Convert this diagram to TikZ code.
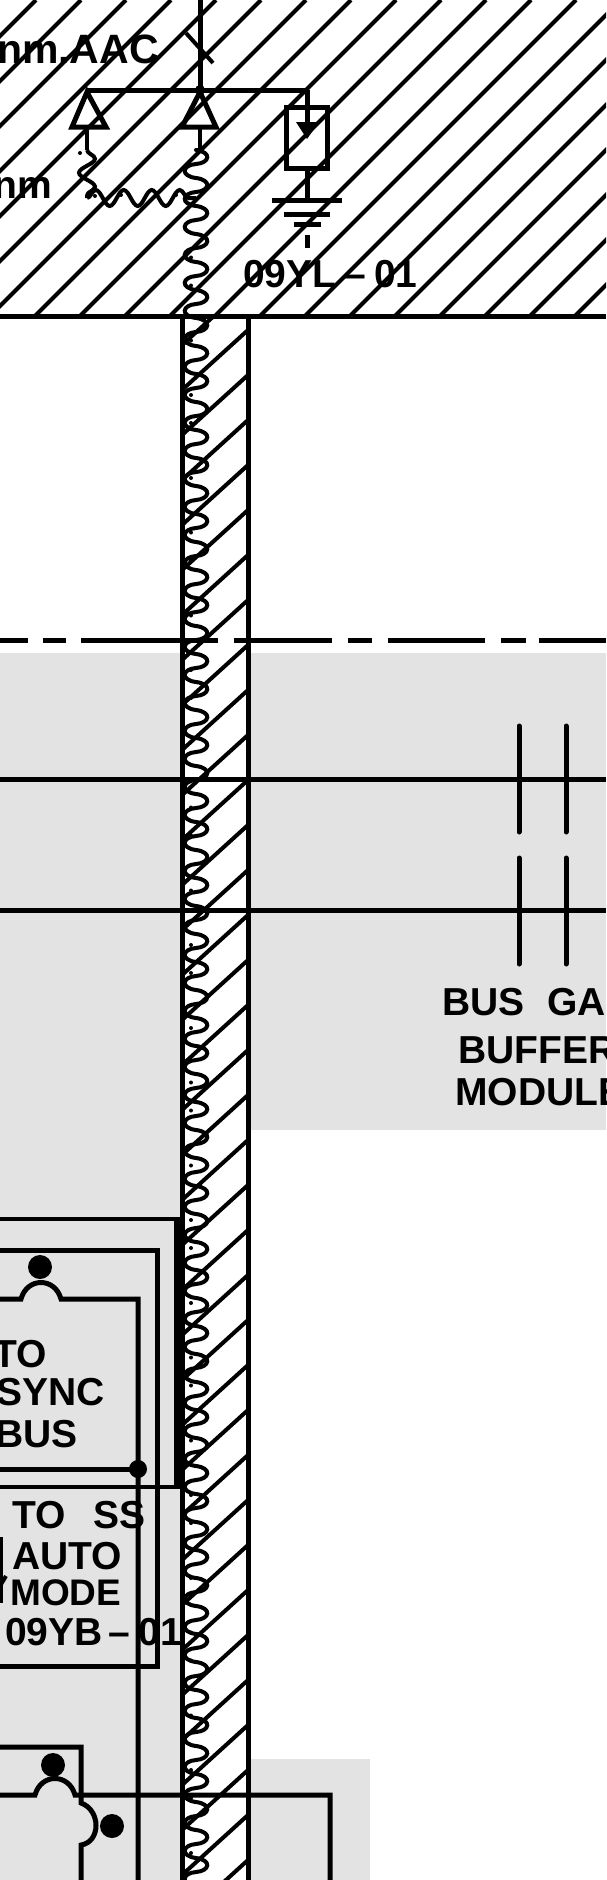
\documentclass[tikz,border=0pt]{standalone}
\usepackage{fontspec}
\setmainfont{Liberation Sans}
\usetikzlibrary{decorations.pathmorphing}
\definecolor{zonegray}{HTML}{E3E3E3}
\tikzset{
    wire/.style={line width=5pt},
    hatchline/.style={line width=4pt},
    cable/.style={line width=4pt, decorate, decoration={snake, segment length=28, amplitude=8}},
    cablecurl/.style={line width=4pt, line cap=round},
    cabledot/.style={fill=black},
    caplabel/.style={inner sep=0pt, font=\fontsize{39}{39}\selectfont\bfseries}
}
\begin{document}
\begin{tikzpicture}[x=1pt, y=-1pt]
    \useasboundingbox (0,0) rectangle (606,1880);
    \clip (0,0) rectangle (606,1880);
    \fill[white] (0,0) rectangle (606,1880);

    % shaded zones
    \fill[zonegray] (0,653) rectangle (182,1880);
    \fill[zonegray] (248,653) rectangle (606,1130);
    \fill[zonegray] (248,1759) rectangle (370,1880);

    % hatched area
    \begin{scope}
        \clip (0,0) rectangle (606,316);
        \foreach \hx in {-370,-325,...,600}
            \draw[hatchline] (\hx,316) -- (\hx+316,0);
    \end{scope}
    \draw[wire] (0,316) -- (606,316);

    % duct
    \begin{scope}
        \clip (182,316) rectangle (248,1880);
        \foreach \hy in {285,330,...,1905}
            \draw[hatchline] (182,\hy+60) -- (248,\hy);
    \end{scope}
    \draw[wire] (182,316) -- (182,1880);
    \draw[wire] (248,316) -- (248,1880);

    % site boundary and bus lines
    \draw[wire] (0,640) -- (28,640) (43,640) -- (66,640) (81,640) -- (218,640)
        (234,640) -- (332,640) (348,640) -- (372,640) (388,640) -- (485,640)
        (501,640) -- (526,640) (539,640) -- (606,640);
    \draw[wire] (0,779) -- (606,779);
    \draw[wire] (0,910) -- (606,910);
    \foreach \tx in {519,566} {
        \draw[wire, line cap=round] (\tx,726) -- (\tx,832);
        \draw[wire, line cap=round] (\tx,858) -- (\tx,964);
    }

    % cable runs
    \foreach \wy in {150,178,...,1880}
        \draw[cablecurl] (196,\wy) .. controls (212,\wy+2) and (210,\wy+13) .. (196,\wy+14)
            .. controls (182,\wy+15) and (180,\wy+26) .. (196,\wy+28);
    \draw[hatchline] (200,127) -- (200,150) -- (196,150);
    \draw[hatchline] (87,127) -- (87,150);
    \draw[cable] (87,150) -- (87,198);
    \draw[cable] (87,198) -- (196,198);
    \foreach \base in {257.5,395,...,1860}
        \foreach \off in {0,28,83}
            \fill[cabledot] (191,\base+\off) circle (2);
    \foreach \dx/\dy in {80/153,95/196,121/195,176/195}
        \fill[cabledot] (\dx,\dy) circle (2);

    % surge arresters and feeder
    \draw[wire] (200,0) -- (200,90);
    \draw[hatchline] (186,33) -- (213,63);
    \draw[wire] (87,90) -- (307,90);
    \fill (200,90) circle (5);
    \draw[wire] (87,92) -- (72,127) -- (106,127) -- cycle;
    \draw[wire] (200,92) -- (182,127) -- (216,127) -- cycle;
    \draw[wire] (307,90) -- (307,107);
    \draw[wire] (286,107) rectangle (327,168);
    \draw[wire] (307,107) -- (307,124);
    \fill (296,122) -- (319,122) -- (307,139) -- cycle;
    \draw[wire] (307,168) -- (307,200);
    \draw[wire] (272,200) -- (342,200);
    \draw[wire] (284,214) -- (330,214);
    \draw[wire] (294,224) -- (321,224);
    \draw[wire] (307,235) -- (307,248);

    % relay panel frames
    \draw[hatchline] (0,1219) -- (177,1219);
    \draw[line width=7pt] (177,1217) -- (177,1489);
    \draw[hatchline] (0,1487) -- (177,1487);
    \draw[wire] (0,1250) -- (157,1250) -- (157,1666) -- (0,1666);
    \draw[wire] (0,1299) -- (21,1299) .. controls (27,1277) and (55,1277) .. (61,1299)
        -- (138,1299) -- (138,1880);
    \draw[wire] (0,1469) -- (138,1469);
    \fill (138,1469) circle (9);
    \fill (40,1267) circle (12);
    \draw[wire] (0,1747) -- (81,1747) -- (81,1803) .. controls (101,1810) and (101,1842) .. (81,1845) -- (81,1880);
    \draw[wire] (0,1795) -- (35,1795) .. controls (41,1773) and (69,1773) .. (75,1795) -- (330,1795) -- (330,1880);
    \fill (53,1765) circle (12);
    \fill (112,1826) circle (12);
    \draw[hatchline] (1,1537) -- (1,1603);
    \draw[hatchline] (0,1586) -- (6,1576);

    % labels
    \node[caplabel, anchor=base east, font=\fontsize{41}{41}\selectfont\bfseries] (aacLabel) at (159,63) {nm.AAC};
    \node[caplabel, anchor=base east] (mmLabel) at (52,198) {nm};
    \node[caplabel, anchor=base west] (arresterLabel) at (243,287) {09YL\hspace{8pt}–\hspace{8pt}01};
    \node[caplabel, anchor=base west] (busLabel) at (442,1015) {BUS\hspace{12pt} GA};
    \node[caplabel, anchor=base west] (bufferLabel) at (458,1063) {BUFFER};
    \node[caplabel, anchor=base west] (moduleLabel) at (455,1105) {MODULE};
    \node[caplabel, anchor=base east] (toLabel) at (47,1367) {TO};
    \node[caplabel, anchor=base east] (syncLabel) at (105,1405) {SYNC};
    \node[caplabel, anchor=base east] (syncBusLabel) at (78,1447) {BUS};
    \node[caplabel, anchor=base west] (ssLabel) at (12,1528) {TO\hspace{17pt} SS};
    \node[caplabel, anchor=base west] (autoLabel) at (12,1569) {AUTO};
    \node[caplabel, anchor=base west, font=\fontsize{37}{37}\selectfont\bfseries] (modeLabel) at (10,1605) {MODE};
    \node[caplabel, anchor=base west] (panelLabel) at (5,1645) {09YB\hspace{6pt}–\hspace{8pt}01};
\end{tikzpicture}
\end{document}
